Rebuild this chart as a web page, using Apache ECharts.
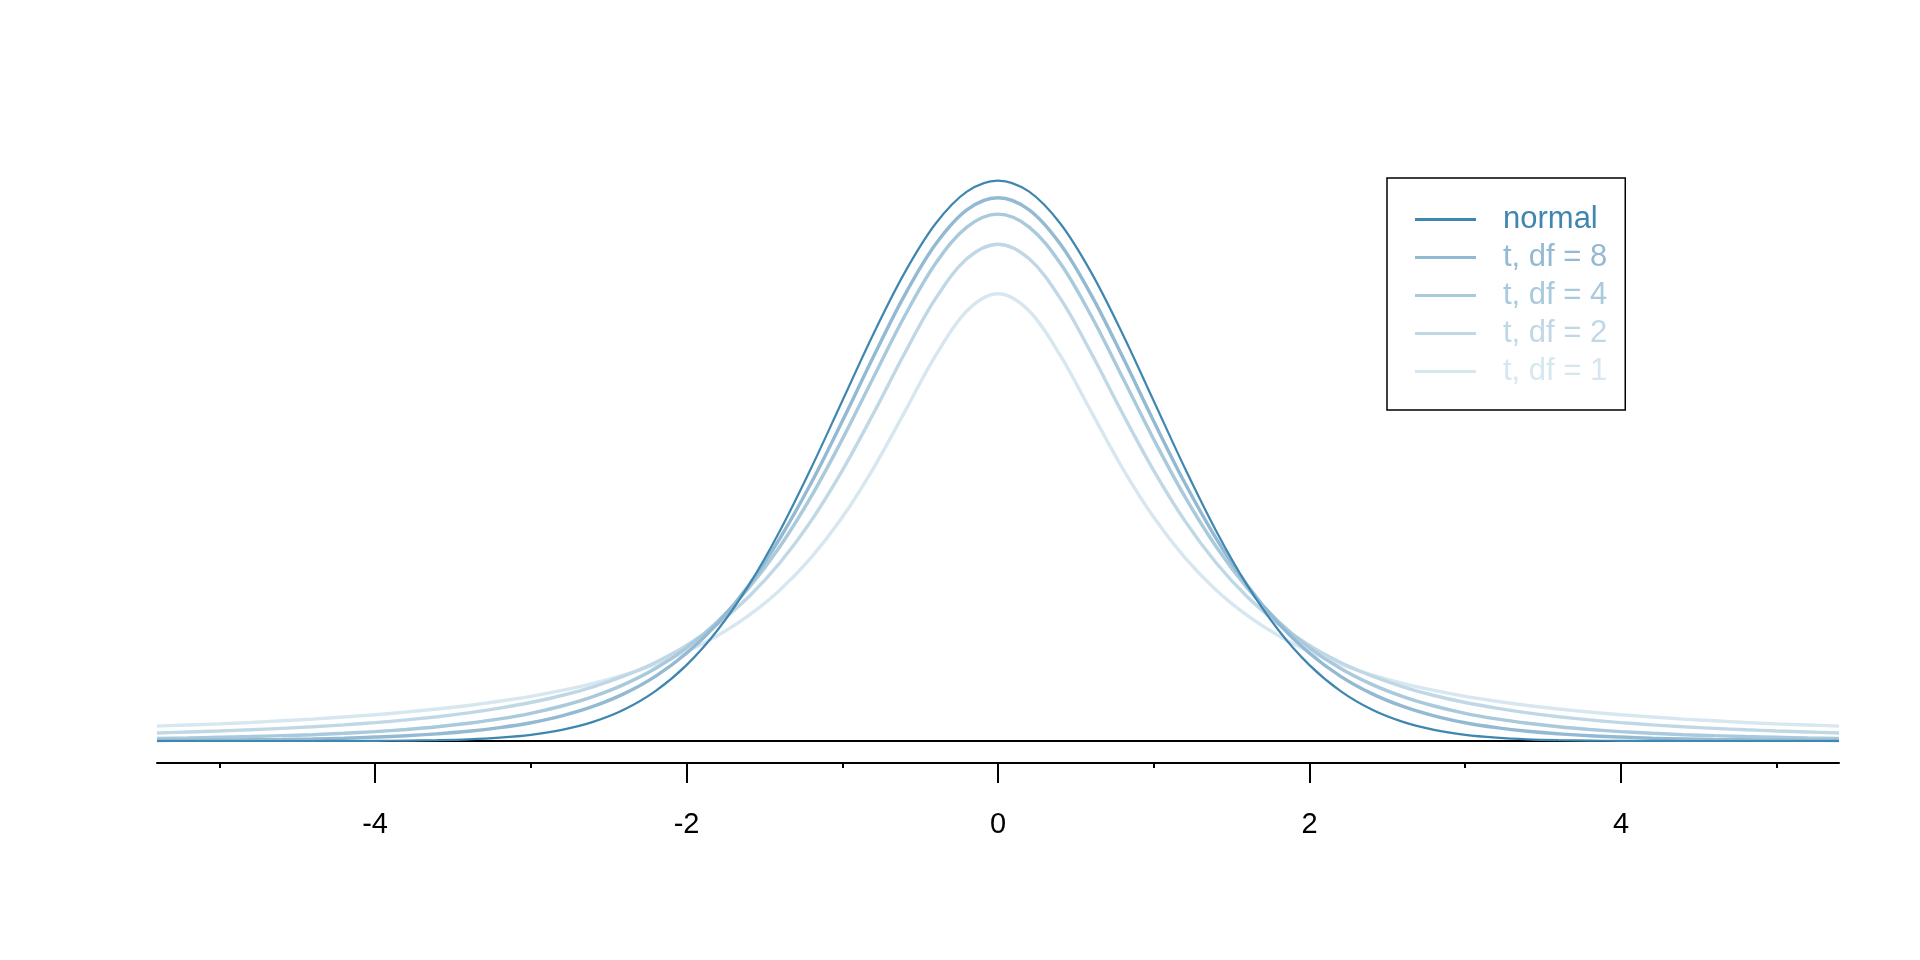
<!DOCTYPE html>
<html>
<head>
<meta charset="utf-8">
<script src="https://cdn.jsdelivr.net/npm/echarts@6/dist/echarts.min.js"></script>
<style>html,body{margin:0;padding:0;background:#fff;}#chart{width:1920px;height:960px;}</style>
</head>
<body>
<div id="chart"></div>
<script>
// x positions (standardized value)
const xs = [-5.4,-5.2,-5.0,-4.8,-4.6,-4.4,-4.2,-4.0,-3.8,-3.6,-3.4,-3.2,-3.0,-2.8,-2.6,-2.4,-2.2,-2.0,-1.8,-1.6,-1.4,-1.2,-1.0,-0.8,-0.6,-0.4,-0.2,0,0.2,0.4,0.6,0.8,1.0,1.2,1.4,1.6,1.8,2.0,2.2,2.4,2.6,2.8,3.0,3.2,3.4,3.6,3.8,4.0,4.2,4.4,4.6,4.8,5.0,5.2,5.4];
// density values
const normalVals = [0,0,0,0,0,0,0.0001,0.0001,0.0003,0.0006,0.0012,0.0024,0.0044,0.0079,0.0136,0.0224,0.0355,0.0540,0.0790,0.1109,0.1497,0.1942,0.2420,0.2897,0.3332,0.3683,0.3910,0.3989,0.3910,0.3683,0.3332,0.2897,0.2420,0.1942,0.1497,0.1109,0.0790,0.0540,0.0355,0.0224,0.0136,0.0079,0.0044,0.0024,0.0012,0.0006,0.0003,0.0001,0.0001,0,0,0,0,0,0];
const t8Vals = [0.0004,0.0005,0.0007,0.0009,0.0011,0.0015,0.0020,0.0028,0.0037,0.0051,0.0069,0.0095,0.0130,0.0179,0.0246,0.0337,0.0460,0.0624,0.0837,0.1109,0.1443,0.1836,0.2276,0.2735,0.3172,0.3537,0.3781,0.3867,0.3781,0.3537,0.3172,0.2735,0.2276,0.1836,0.1443,0.1109,0.0837,0.0624,0.0460,0.0337,0.0246,0.0179,0.0130,0.0095,0.0069,0.0051,0.0037,0.0028,0.0020,0.0015,0.0011,0.0009,0.0007,0.0005,0.0004];
const t4Vals = [0.0019,0.0022,0.0027,0.0032,0.0038,0.0045,0.0055,0.0067,0.0082,0.0101,0.0126,0.0157,0.0197,0.0249,0.0316,0.0403,0.0516,0.0663,0.0851,0.1089,0.1384,0.1739,0.2147,0.2587,0.3023,0.3400,0.3658,0.3750,0.3658,0.3400,0.3023,0.2587,0.2147,0.1739,0.1384,0.1089,0.0851,0.0663,0.0516,0.0403,0.0316,0.0249,0.0197,0.0157,0.0126,0.0101,0.0082,0.0067,0.0055,0.0045,0.0038,0.0032,0.0027,0.0022,0.0019];
const t2Vals = [0.0057,0.0064,0.0071,0.0080,0.0090,0.0101,0.0115,0.0131,0.0150,0.0173,0.0200,0.0234,0.0274,0.0324,0.0386,0.0463,0.0559,0.0680,0.0834,0.1027,0.1269,0.1567,0.1925,0.2331,0.2758,0.3150,0.3432,0.3536,0.3432,0.3150,0.2758,0.2331,0.1925,0.1567,0.1269,0.1027,0.0834,0.0680,0.0559,0.0463,0.0386,0.0324,0.0274,0.0234,0.0200,0.0173,0.0150,0.0131,0.0115,0.0101,0.0090,0.0080,0.0071,0.0064,0.0057];
const t1Vals = [0.0106,0.0114,0.0122,0.0132,0.0144,0.0156,0.0171,0.0187,0.0206,0.0228,0.0253,0.0283,0.0318,0.0360,0.0410,0.0471,0.0545,0.0637,0.0751,0.0894,0.1075,0.1305,0.1592,0.1941,0.2341,0.2744,0.3061,0.3183,0.3061,0.2744,0.2341,0.1941,0.1592,0.1305,0.1075,0.0894,0.0751,0.0637,0.0545,0.0471,0.0410,0.0360,0.0318,0.0283,0.0253,0.0228,0.0206,0.0187,0.0171,0.0156,0.0144,0.0132,0.0122,0.0114,0.0106];

const seriesNames = ['normal', 't, df = 8', 't, df = 4', 't, df = 2', 't, df = 1'];
const majorTicks = [-4, -2, 0, 2, 4];
const minorTicks = [-5, -3, -1, 1, 3, 5];
const xRange = [-5.4, 5.4];
const yRange = [0, 0.4];

const colors = ['#3f86b0', '#94bad3', '#a9c9dc', '#c0d8e6', '#d7e7f0'];
const widths = [2.2, 3.4, 3.4, 3.4, 3.4];
const valueSets = [normalVals, t8Vals, t4Vals, t2Vals, t1Vals];

const chart = echarts.init(document.getElementById('chart'), null, {renderer: 'canvas'});
const FONT = '"Liberation Sans", Arial, Helvetica, sans-serif';

const series = [];
// draw t, df = 1 first so normal sits on top
for (let k = valueSets.length - 1; k >= 0; k--) {
  const s = {
    name: seriesNames[k],
    type: 'line',
    xAxisIndex: 0,
    yAxisIndex: 0,
    data: xs.map((x, i) => [x, valueSets[k][i]]),
    smooth: 0.35,
    showSymbol: false,
    symbol: 'none',
    clip: false,
    z: 10 - k,
    lineStyle: {color: colors[k], width: widths[k]},
    itemStyle: {color: colors[k]},
    emphasis: {disabled: true}
  };
  if (k === 0) {
    s.markLine = {
      silent: true,
      symbol: ['none', 'none'],
      label: {show: false},
      lineStyle: {color: '#000', width: 2, type: 'solid'},
      data: [{yAxis: 0}],
      z: 1
    };
  }
  series.push(s);
}

chart.setOption({
  animation: false,
  backgroundColor: '#fff',
  textStyle: {fontFamily: FONT},
  grid: {left: 157, right: 81, top: 179, bottom: 219, containLabel: false},
  legend: {
    orient: 'vertical',
    left: 1387,
    top: 178,
    padding: [26, 18, 23, 28],
    borderColor: '#000',
    borderWidth: 1.5,
    itemWidth: 61,
    itemHeight: 3,
    itemGap: 7,
    icon: 'rect',
    selectedMode: false,
    data: seriesNames.map((n, k) => ({
      name: n,
      itemStyle: {color: colors[k]},
      textStyle: {color: colors[k]}
    })),
    textStyle: {fontSize: 31, fontFamily: FONT, lineHeight: 30, padding: [0, 0, 0, 22]}
  },
  xAxis: [
    {
      type: 'value', position: 'bottom', offset: 22,
      min: xRange[0], max: xRange[1],
      axisLine: {show: true, onZero: false, lineStyle: {color: '#000', width: 2}},
      axisTick: {show: true, customValues: majorTicks, length: 20, lineStyle: {color: '#000', width: 2}},
      axisLabel: {show: true, customValues: majorTicks, fontSize: 29, color: '#000', margin: 47, fontFamily: FONT,
                  formatter: v => String(v)},
      splitLine: {show: false}
    },
    {
      type: 'value', position: 'bottom', offset: 22,
      min: xRange[0], max: xRange[1],
      axisLine: {show: false, onZero: false},
      axisTick: {show: true, customValues: minorTicks, length: 5, lineStyle: {color: '#000', width: 2}},
      axisLabel: {show: false},
      splitLine: {show: false}
    }
  ],
  yAxis: {
    type: 'value', min: yRange[0], max: yRange[1], show: false,
    splitLine: {show: false}
  },
  series: series
});
</script>
</body>
</html>
